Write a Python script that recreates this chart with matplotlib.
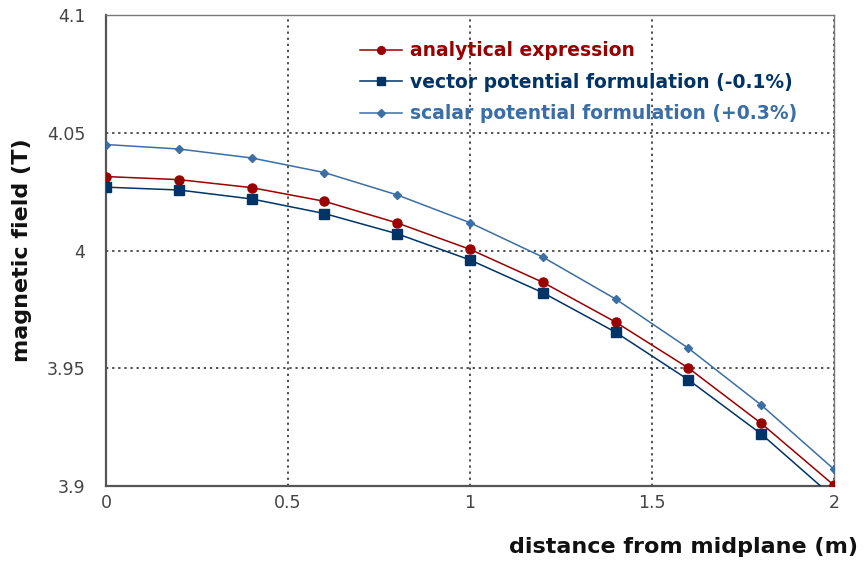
import matplotlib
matplotlib.use("Agg")
import matplotlib.pyplot as plt
from matplotlib.lines import Line2D

x = [0, 0.2, 0.4, 0.6, 0.8, 1.0, 1.2, 1.4, 1.6, 1.8, 2.0]
analytical = [4.0314, 4.0301, 4.0267, 4.0209, 4.0117, 4.0005, 3.9865, 3.9696, 3.9501, 3.9266, 3.9003]
vector = [4.0269, 4.0257, 4.0219, 4.0157, 4.0071, 3.9960, 3.9821, 3.9653, 3.9451, 3.9221, 3.8950]
scalar = [4.0450, 4.0431, 4.0393, 4.0331, 4.0236, 4.0118, 3.9972, 3.9794, 3.9585, 3.9344, 3.9071]

labels = ["analytical expression",
          "vector potential formulation (-0.1%)",
          "scalar potential formulation (+0.3%)"]
colors = ["#990000", "#003366", "#3a6ea5"]
markers = ["o", "s", "D"]
msizes = [6.5, 6.5, 4.5]
series = [analytical, vector, scalar]

xticks = [0, 0.5, 1, 1.5, 2]
xticklabels = ["0", "0.5", "1", "1.5", "2"]
yticks = [3.9, 3.95, 4.0, 4.05, 4.1]
yticklabels = ["3.9", "3.95", "4", "4.05", "4.1"]

fig = plt.figure(figsize=(8.64, 5.66), dpi=100)
ax = fig.add_axes([0.1227, 0.1413, 0.9653 - 0.1227, 0.9735 - 0.1413])

for ys, c, m, ms in zip(series, colors, markers, msizes):
    ax.plot(x, ys, color=c, marker=m, markersize=ms, linewidth=1.1,
            markeredgecolor=c, clip_on=True, zorder=3)

ax.set_xlim(0, 2)
ax.set_ylim(3.9, 4.1)
ax.set_xticks(xticks)
ax.set_xticklabels(xticklabels)
ax.set_yticks(yticks)
ax.set_yticklabels(yticklabels)
ax.grid(True, color="#222222", linestyle=(0, (1.5, 2.5)), linewidth=1.1)
ax.tick_params(axis="both", colors="#555555", labelcolor="#444444", labelsize=12.5,
               length=0)
ax.tick_params(axis="y", pad=15)
ax.tick_params(axis="x", pad=6)
for s in ["left", "bottom"]:
    ax.spines[s].set_color("#555555")
    ax.spines[s].set_linewidth(1.6)
for s in ["top", "right"]:
    ax.spines[s].set_color("#777777")
    ax.spines[s].set_linewidth(1.0)

fig.text(0.026, 0.558, "magnetic field (T)", rotation=90, fontsize=16,
         fontweight="bold", ha="center", va="center", color="#111111")
fig.text(0.993, 0.034, "distance from midplane (m)", fontsize=16,
         fontweight="bold", ha="right", va="center", color="#111111")

handles = [Line2D([0], [0], color=c, marker=m, markersize=ms * 0.85, linewidth=1.1)
           for c, m, ms in zip(colors, markers, msizes)]
leg = ax.legend(handles, labels, loc="upper left", bbox_to_anchor=(0.349, 0.944),
                frameon=False, fontsize=13.5, handlelength=2.25, handletextpad=0.43,
                labelspacing=0.66, borderaxespad=0, borderpad=0)
for t, c in zip(leg.get_texts(), colors):
    t.set_color(c)
    t.set_fontweight("bold")

fig.savefig("out.png", dpi=100)
